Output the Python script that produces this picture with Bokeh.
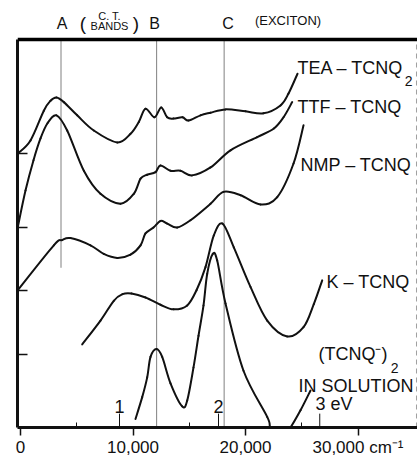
from bokeh.plotting import figure
from bokeh.models import Range1d, FixedTicker, Label, BoxAnnotation
from bokeh.embed import file_html
from bokeh.resources import INLINE

# ---- data (wavenumber in cm^-1, absorbance offset in arbitrary units) ----
tea_x = [-250, 889, 2071, 2667, 3200, 3852, 5040, 6516, 8596, 9778, 10516, 11111, 11911,
         12507, 13040, 13600, 14400, 14933, 16000, 16889, 18222, 20000, 21600, 23111, 23822, 24622]
tea_y = [4.15, 4.35, 4.80, 4.95, 5.00, 4.93, 4.73, 4.50, 4.32, 4.45, 4.63, 4.83, 4.70,
         4.85, 4.70, 4.68, 4.70, 4.65, 4.73, 4.77, 4.82, 4.79, 4.76, 4.88, 5.06, 5.36]

ttf_x = [-250, 444, 1156, 1778, 2400, 3200, 4150, 5630, 7110, 8890, 10070, 10670, 11260,
         12000, 12440, 13330, 14220, 15260, 16890, 18670, 21040, 22520, 23380, 24150]
ttf_y = [3.03, 3.59, 4.05, 4.38, 4.61, 4.73, 4.50, 3.89, 3.54, 3.39, 3.54, 3.77, 3.83,
         3.87, 3.97, 3.89, 3.89, 3.82, 3.94, 4.20, 4.40, 4.53, 4.70, 4.93]

nmp_x = [-250, 2960, 3704, 4440, 6220, 7400, 8600, 9780, 10670, 11110, 11820, 12440, 13040,
         13930, 15110, 16890, 18040, 19560, 21330, 22820, 24270, 25160]
nmp_y = [2.08, 2.76, 2.84, 2.87, 2.76, 2.63, 2.57, 2.62, 2.76, 2.94, 3.03, 3.13, 3.09,
         3.03, 3.14, 3.39, 3.57, 3.52, 3.38, 3.49, 4.00, 4.58]

k_x = [5484, 7111, 8293, 9067, 9867, 11111, 12444, 13600, 14818, 15644, 16444, 17182, 17956,
       18960, 20444, 21929, 23707, 25156, 26071, 26818]
k_y = [1.26, 1.62, 1.92, 2.02, 2.03, 1.97, 1.86, 1.79, 1.85, 2.08, 2.43, 2.91, 3.09,
       2.73, 2.13, 1.62, 1.38, 1.52, 1.87, 2.23]

sol_x = [10222, 10818, 11262, 11556, 12089, 12596, 13333, 14373, 14818, 15378, 15822, 16267,
         16596, 17093, 17484, 18222, 19822, 21929, 22222, 23111, 24000, 24889, 25778]
sol_y = [0.13, 0.46, 0.76, 1.07, 1.19, 1.07, 0.67, 0.32, 0.41, 0.91, 1.39, 1.85,
         2.33, 2.63, 2.53, 1.88, 0.86, 0.16, 0.0, -0.2, 0.0, 0.26, 0.56]

band_names = ["A", "B", "C"]
band_pos = [3600, 12100, 18100]
band_low = [2.42, 0.0, 0.0]

ev_labels = ["1", "2", "3 eV"]
ev_pos = [8800, 17600, 26600]

x_ticks = [0, 10000, 20000, 30000]
x_tick_labels = ["0", "10,000", "20,000", "30,000 cm\u207b\u00b9"]
x_minor = [5000, 15000, 25000]
y_ticks = [1.1, 2.08, 3.03, 4.15]

FONT = "Liberation Sans"
INK = "#111111"
Y_TOP = 5.879          # top of the spectrum box
Y_MAX = 427 / 66.0     # headroom for the band captions
X_MIN = -267
X_MAX = X_MIN + 400 / 0.01125

p = figure(width=417, height=459, output_backend="svg", toolbar_location=None,
           x_range=Range1d(X_MIN, X_MAX), y_range=Range1d(0, Y_MAX),
           min_border_left=17, min_border_right=0, min_border_top=0, min_border_bottom=32)
p.grid.visible = False
p.outline_line_color = None

xa = p.xaxis[0]
xa.ticker = FixedTicker(ticks=x_ticks, minor_ticks=x_minor)
xa.major_label_overrides = {t: s for t, s in zip(x_ticks, x_tick_labels)}
xa.axis_line_width = 3
xa.axis_line_color = INK
xa.major_tick_in = 0
xa.major_tick_out = 8
xa.major_tick_line_width = 1.5
xa.major_tick_line_color = INK
xa.minor_tick_in = 5
xa.minor_tick_out = 0
xa.minor_tick_line_color = INK
xa.major_label_text_font = FONT
xa.major_label_text_font_size = "17px"
xa.major_label_text_color = INK
xa.major_label_standoff = 2

ya = p.yaxis[0]
ya.ticker = FixedTicker(ticks=y_ticks, minor_ticks=[])
ya.bounds = (0, Y_TOP)
ya.axis_line_width = 3
ya.axis_line_color = INK
ya.major_tick_in = 10
ya.major_tick_out = 0
ya.major_tick_line_width = 1.5
ya.major_tick_line_color = INK
ya.major_label_overrides = {t: "" for t in y_ticks}
ya.major_label_standoff = 0

# top edge of the box (thin filled band) and faint right edge
p.add_layout(BoxAnnotation(bottom=Y_TOP - 0.025, top=Y_TOP + 0.025,
                           fill_color="black", fill_alpha=1.0, line_color=None,
                           level="overlay"))
p.segment(x0=[X_MAX - 90], y0=[0], x1=[X_MAX - 90], y1=[Y_TOP],
          line_color="#a0a0a0", line_width=1, line_dash="5 4")

# band marker lines
p.segment(x0=band_pos, y0=band_low, x1=band_pos, y1=[Y_TOP] * 3,
          line_color="#808080", line_width=1)


def smooth_curve(xs, ys):
    """Draw a curve through the points as Catmull-Rom cubic Bezier pieces."""
    pts = list(zip(xs, ys))
    ext = [pts[0]] + pts + [pts[-1]]
    seg = {k: [] for k in ("x0", "y0", "x1", "y1", "cx0", "cy0", "cx1", "cy1")}
    for i in range(len(pts) - 1):
        (ax, ay), (bx, by), (cx, cy), (dx, dy) = ext[i], ext[i + 1], ext[i + 2], ext[i + 3]
        seg["x0"].append(bx); seg["y0"].append(by)
        seg["x1"].append(cx); seg["y1"].append(cy)
        seg["cx0"].append(bx + (cx - ax) / 6.0); seg["cy0"].append(by + (cy - ay) / 6.0)
        seg["cx1"].append(cx - (dx - bx) / 6.0); seg["cy1"].append(cy - (dy - by) / 6.0)
    p.bezier(line_color=INK, line_width=2, line_cap="round", **seg)


for xs, ys in [(tea_x, tea_y), (ttf_x, ttf_y), (nmp_x, nmp_y), (k_x, k_y), (sol_x, sol_y)]:
    smooth_curve(xs, ys)

# eV scale ticks
p.segment(x0=ev_pos, y0=[0] * 3, x1=ev_pos, y1=[0.21] * 3, line_color=INK, line_width=1)


def lab(x, y, text, size, align="left", base="middle"):
    p.add_layout(Label(x=x, y=y, text=text, text_font=FONT, text_font_size=size,
                       text_color=INK, text_align=align, text_baseline=base))


# band captions above the box
for name, x in zip(band_names, [3689, 11911, 18444]):
    lab(x, 6.12, name, "16px", "center")
lab(5556, 6.12, "(", "19px", "center")
lab(10267, 6.12, ")", "19px", "center")
lab(7911, 6.235, "C. T.", "11px", "center")
lab(7911, 6.09, "BANDS", "11px", "center")
lab(23778, 6.16, "(EXCITON)", "13px", "center")

# curve labels
lab(24622, 5.44, "TEA \u2013 TCNQ", "18px")
lab(34500, 5.25, "2", "14px", "center")
lab(24622, 4.85, "TTF \u2013 TCNQ", "18px")
lab(24889, 3.97, "NMP \u2013 TCNQ", "18px")
lab(27200, 2.205, "K \u2013 TCNQ", "18px")
lab(26489, 1.114, "(TCNQ\u207b)", "18px")
lab(33250, 0.90, "2", "14px", "center")
lab(24711, 0.636, "IN SOLUTION", "18px")

for t, x in zip(ev_labels, ev_pos):
    if t == "3 eV":
        lab(x - 380, 0.35, t, "18px", "left")
    else:
        lab(x, 0.32, t, "18px", "center")

open("out.html", "w").write(file_html(p, INLINE))
